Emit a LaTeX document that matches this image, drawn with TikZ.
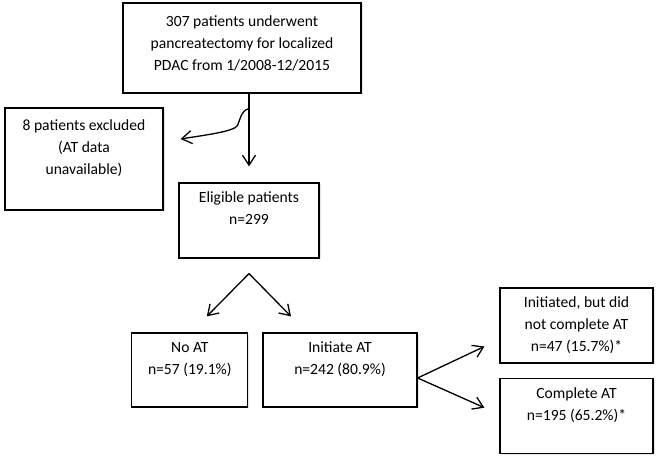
\documentclass[tikz,border=0pt]{standalone}
\usepackage{fontspec}
\setmainfont{Carlito}
\usetikzlibrary{arrows.meta, positioning, shadows}
\tikzstyle{box} = [rectangle, draw, line width=1.2pt, fill=white, text centered, align=center, drop shadow={shadow xshift=1.5pt, shadow yshift=-1.5pt, opacity=0.2}]
\tikzstyle{connector} = [draw, line width=1.3pt, -{Straight Barb[length=10pt, width=13pt]}]

\begin{document}
\begin{tikzpicture}[x=1pt, y=1pt, font=\fontsize{15.6}{22}\selectfont]
            \useasboundingbox (0,0) rectangle (660,462);
            \node[box, minimum width=238pt, minimum height=90pt] (pancreatectomy) at (242,414) {\strut 307 patients underwent\\\strut pancreatectomy for localized\\\strut PDAC from 1/2008-12/2015\\[-14pt]\strut};
            \node[box, minimum width=158pt, minimum height=102pt] (excluded) at (84,303) {\strut 8 patients excluded\\\strut (AT data\\\strut unavailable)\\\strut};
            \node[box, minimum width=140pt, minimum height=75pt] (eligible) at (249,241.5) {\strut Eligible patients\\\strut n=299\\\strut};

            \node[box, minimum width=154pt, minimum height=74pt] (initiate) at (340,92) {\strut Initiate AT\\\strut n=242 (80.9\%)\\\strut};
            \node[box, minimum width=116pt, minimum height=74pt, left=14pt of initiate] (no_at) {\strut No AT\\\strut n=57 (19.1\%)\\\strut};

            \node[box, minimum width=153pt, minimum height=75pt] (incomplete) at (576.5,136.5) {\strut Initiated, but did\\\strut not complete AT\\\strut n=47 (15.7\%)*};
            \node[box, minimum width=153pt, minimum height=75pt, below=14pt of incomplete] (complete) {\strut Complete AT\\\strut n=195 (65.2\%)*\\\strut};

            \coordinate (split) at ([yshift=-15pt]pancreatectomy.south -| eligible.north);
            \coordinate (excl_tip) at ([xshift=17pt, yshift=20pt]excluded.east);
            \coordinate (fork) at ([yshift=-15pt]eligible.south);

            \draw[connector] (pancreatectomy.south -| eligible.north) -- ([yshift=16pt]eligible.north);
            \draw[connector] (split) .. controls +(-8pt,-2pt) and +(3pt,7pt) .. ++(-11.5pt,-17pt) .. controls +(-4pt,-6pt) and +(25pt,4pt) .. (excl_tip);
            \draw[connector] (fork) -- ([xshift=17pt, yshift=16pt]no_at.north);
            \draw[connector] (fork) -- ([xshift=-49pt, yshift=16pt]initiate.north);
            \draw[connector] ([yshift=-8pt]initiate.east) -- ([xshift=-15pt, yshift=-21pt]incomplete.west);
            \draw[connector] ([yshift=-8pt]initiate.east) -- ([xshift=-15pt, yshift=8pt]complete.west);
        \end{tikzpicture}
\end{document}
